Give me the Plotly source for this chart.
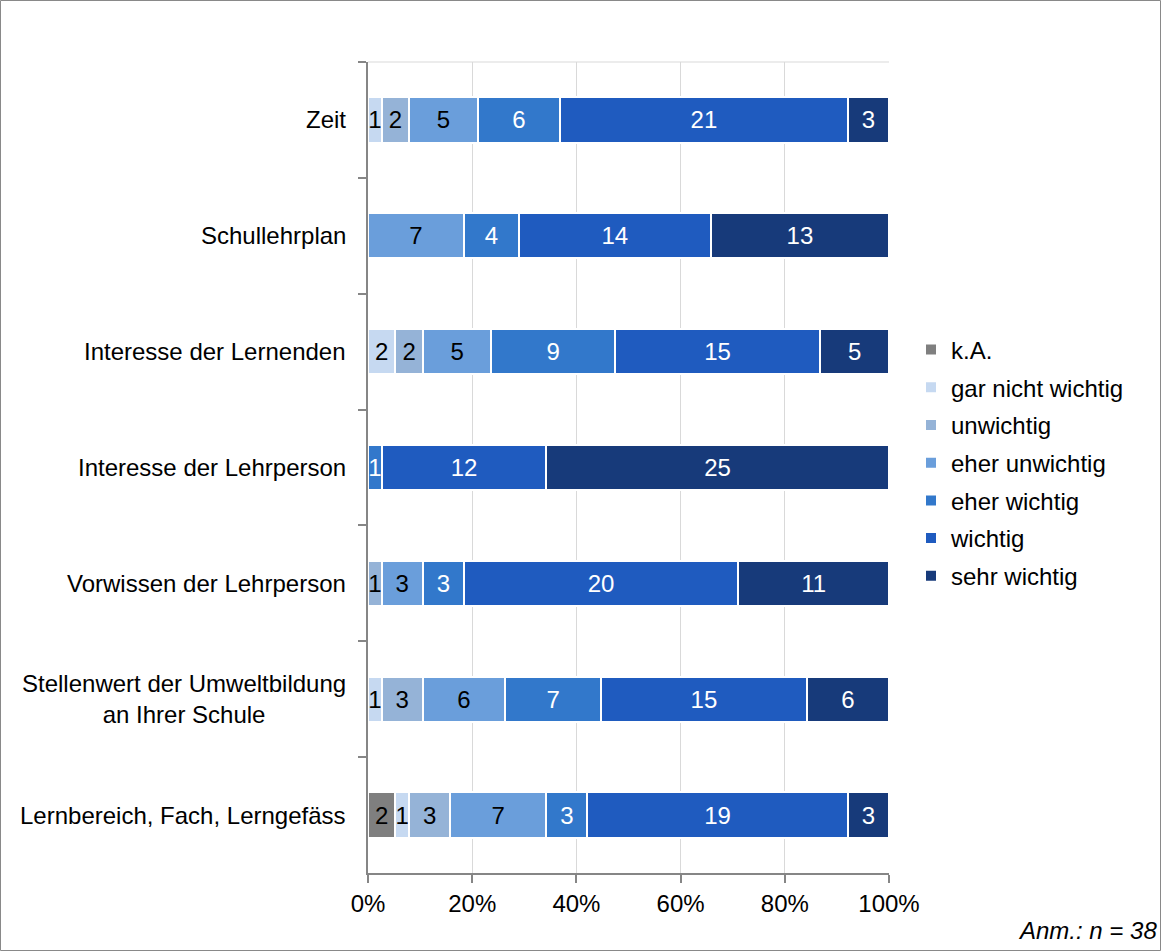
import plotly.graph_objects as go

# Survey items (top to bottom) and answer counts per rating level (n = 38)
categories = [
    "Zeit",
    "Schullehrplan",
    "Interesse der Lernenden",
    "Interesse der Lehrperson",
    "Vorwissen der Lehrperson",
    "Stellenwert der Umweltbildung<br>an Ihrer Schule",
    "Lernbereich, Fach, Lerngefäss",
]
series_names = ["k.A.", "gar nicht wichtig", "unwichtig", "eher unwichtig",
                "eher wichtig", "wichtig", "sehr wichtig"]

ka = [0, 0, 0, 0, 0, 0, 2]
gar_nicht_wichtig = [1, 0, 2, 0, 0, 1, 1]
unwichtig = [2, 0, 2, 0, 1, 3, 3]
eher_unwichtig = [5, 7, 5, 0, 3, 6, 7]
eher_wichtig = [6, 4, 9, 1, 3, 7, 3]
wichtig = [21, 14, 15, 12, 20, 15, 19]
sehr_wichtig = [3, 13, 5, 25, 11, 6, 3]

x_ticks = [0, 20, 40, 60, 80, 100]
note = "Anm.: n = 38"

series_values = [ka, gar_nicht_wichtig, unwichtig, eher_unwichtig,
                 eher_wichtig, wichtig, sehr_wichtig]
colors = ["#7f7f7f", "#c6d9f1", "#95b3d7", "#6a9edb", "#3278cb", "#1f5bbf", "#173a7a"]
text_colors = ["#000000", "#000000", "#000000", "#000000", "#ffffff", "#ffffff", "#ffffff"]

FONT = "Arial, Liberation Sans, sans-serif"
FS = 24
W, H = 1161, 951
ML, MR, MT, MB = 368, 272, 62, 78
PW, PH = W - ML - MR, H - MT - MB

fig = go.Figure()
for name, vals, col, tcol in zip(series_names, series_values, colors, text_colors):
    fig.add_trace(go.Bar(
        y=categories,
        x=vals,
        name=name,
        legendgroup=name,
        orientation="h",
        marker=dict(color=col, line=dict(color="#ffffff", width=2)),
        text=[str(v) if v else "" for v in vals],
        textposition="inside",
        insidetextanchor="middle",
        textangle=0,
        insidetextfont=dict(family=FONT, size=FS, color=tcol),
        hoverinfo="skip",
    ))

# Category labels drawn as centred annotations on the category axis
annotations = [
    dict(x=0, xref="paper", y=c, yref="y", text=c, showarrow=False,
         xanchor="right", yanchor="middle", xshift=-20, align="center",
         font=dict(family=FONT, size=FS, color="#000000"))
    for c in categories
]
annotations.append(dict(
    x=(W - 2 - ML) / PW, xref="paper", y=-(946 - (MT + PH)) / PH, yref="paper",
    text="<i>" + note + "</i>", showarrow=False, xanchor="right", yanchor="bottom",
    font=dict(family=FONT, size=FS, color="#000000"),
))

shapes = [
    # outer frame of the figure
    dict(type="rect", xref="paper", yref="paper",
         x0=(0.5 - ML) / PW, x1=(W - 0.5 - ML) / PW,
         y0=-(MB - 0.5) / PH, y1=(PH + MT - 0.5) / PH,
         line=dict(color="#898989", width=1), fillcolor="rgba(0,0,0,0)", layer="below"),
    # light top edge of the plot area
    dict(type="line", xref="paper", yref="paper", x0=0, x1=1, y0=1, y1=1,
         line=dict(color="#d9d9d9", width=1), layer="below"),
]

fig.update_layout(
    width=W, height=H,
    margin=dict(l=ML, r=MR, t=MT, b=MB, pad=0),
    paper_bgcolor="#ffffff", plot_bgcolor="#ffffff",
    barmode="stack", barnorm="percent", bargap=0.61,
    font=dict(family=FONT, size=FS, color="#000000"),
    showlegend=True,
    legend=dict(
        x=(911 - ML) / PW, y=(MT + PH - 463) / PH, xanchor="left", yanchor="middle",
        traceorder="grouped", font=dict(family=FONT, size=FS, color="#000000"),
        bgcolor="rgba(0,0,0,0)", itemclick=False, tracegroupgap=3.5,
    ),
    uniformtext=dict(minsize=FS, mode="show"),
    annotations=annotations,
    shapes=shapes,
)

fig.update_xaxes(
    range=[0, 100], tickvals=x_ticks, ticktext=[f"{v}%" for v in x_ticks],
    showgrid=True, gridcolor="#d9d9d9", gridwidth=1,
    showline=True, linecolor="#868686", linewidth=1.5,
    ticks="outside", ticklen=8, tickcolor="#868686", tickwidth=1.5,
    tickfont=dict(family=FONT, size=FS, color="#000000"),
    zeroline=False, fixedrange=True,
)
fig.update_yaxes(
    type="category", categoryorder="array", categoryarray=categories,
    autorange="reversed",
    showticklabels=False, showgrid=False,
    showline=True, linecolor="#868686", linewidth=1.5,
    ticks="outside", ticklen=8, tickcolor="#868686", tickwidth=1.5,
    tickson="boundaries", zeroline=False, fixedrange=True,
)

fig.write_html("out.html")
